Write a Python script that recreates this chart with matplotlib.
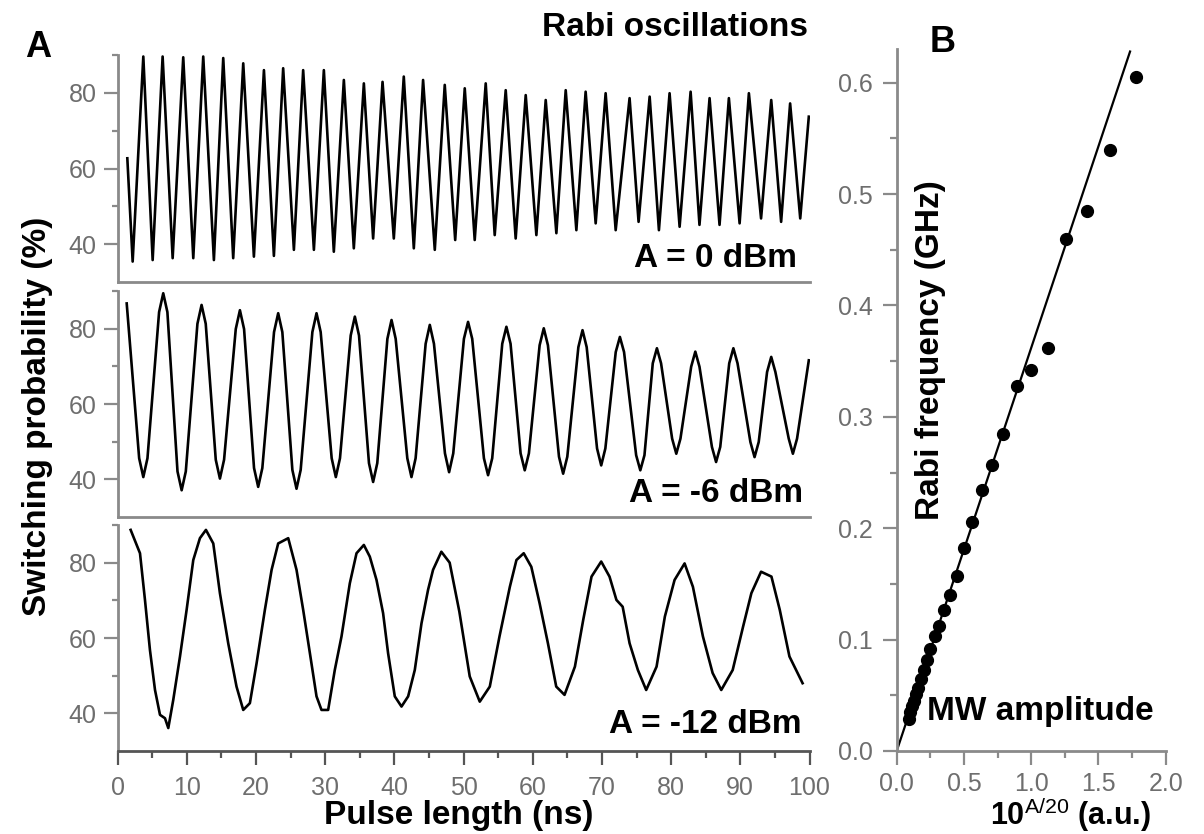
import matplotlib
matplotlib.use("Agg")
import matplotlib.pyplot as plt
from matplotlib.ticker import FixedLocator, MultipleLocator, FormatStrFormatter

plt.rcParams['font.family'] = ['Liberation Sans', 'DejaVu Sans']
plt.rcParams['mathtext.fontset'] = 'custom'
plt.rcParams['mathtext.rm'] = 'Liberation Sans'
plt.rcParams['mathtext.bf'] = 'Liberation Sans:bold'

# ---------------- data ----------------
# A = 0 dBm trace: turning points (ns, %)
t_0dbm = [1.42, 2.19, 3.73, 5.08, 6.52, 7.97, 9.5, 10.95, 12.39, 13.93, 15.28, 16.72,
          18.17, 19.71, 21.16, 22.6, 23.94, 25.49, 26.83, 28.38, 29.82, 31.26, 32.71,
          34.15, 35.6, 36.94, 38.3, 39.93, 41.37, 42.82, 44.16, 45.85, 47.29, 48.8,
          50.18, 51.62, 53.21, 54.51, 56.1, 57.54, 58.99, 60.53, 61.88, 63.42, 64.77,
          66.31, 67.65, 69.1, 70.54, 71.99, 74.0, 75.3, 76.9, 78.24, 79.78, 81.23,
          82.82, 84.1, 85.56, 87.0, 88.35, 89.9, 91.24, 93.0, 94.47, 95.9, 97.2,
          98.66, 99.9]
p_0dbm = [62.7, 35.4, 89.6, 35.8, 89.6, 36.3, 89.4, 36.3, 89.6, 35.8, 89.2, 36.3,
          87.8, 36.7, 86.0, 36.9, 86.5, 38.5, 86.0, 38.5, 86.0, 38.0, 83.4,
          38.9, 82.5, 41.5, 82.9, 41.5, 84.3, 38.9, 83.4, 38.5, 82.1, 41.1,
          81.2, 41.1, 82.5, 42.4, 80.7, 41.5, 79.4, 42.4, 78.1, 42.9, 80.7,
          43.7, 80.3, 45.5, 79.9, 43.7, 78.6, 45.9, 79.0, 43.7, 79.9, 44.6,
          80.3, 45.1, 78.6, 45.1, 78.6, 45.5, 79.9, 46.8, 78.1, 45.9, 77.2,
          46.8, 73.7]

# A = -6 dBm trace (ns, %)
t_6dbm = [1.33,
          3.13, 3.73, 4.33,   6.01, 6.61, 7.21,   8.67, 9.27, 9.87,
          11.55, 12.15, 12.75, 14.2, 14.8, 15.4,  17.09, 17.69, 18.29,
          19.73, 20.33, 20.93, 22.62, 23.22, 23.82, 25.27, 25.87, 26.47,
          28.16, 28.76, 29.36, 30.95, 31.55, 32.15, 33.7, 34.3, 34.9,
          36.34, 36.94, 37.54, 39.0, 39.6, 40.2,  41.88, 42.48, 43.08,
          44.53, 45.13, 45.73, 47.32, 47.92, 48.52, 50.06, 50.66, 51.26,
          52.95, 53.55, 54.15, 55.6, 56.2, 56.8,  58.25, 58.85, 59.45,
          61.0, 61.6, 62.2,   63.8, 64.4, 65.0,   66.6, 67.2, 67.8,
          69.3, 69.9, 70.5,   72.0, 72.6, 73.2,   74.95, 75.55, 76.15,
          77.35, 77.95, 78.55, 80.15, 80.75, 81.35, 82.9, 83.5, 84.1,
          85.9, 86.5, 87.1,   88.4, 89.0, 89.6,   91.46, 92.06, 92.66,
          93.87, 94.47, 95.07, 97.0, 97.6, 98.2,
          99.9]
p_6dbm = [86.7,
          45.6, 40.6, 45.6,   84.4, 89.4, 84.4,   42.1, 37.1, 42.1,
          81.3, 86.3, 81.3,   45.2, 40.2, 45.2,   79.9, 84.9, 79.9,
          43.0, 38.0, 43.0,   79.1, 84.1, 79.1,   42.5, 37.5, 42.5,
          79.1, 84.1, 79.1,   45.6, 40.6, 45.6,   78.2, 83.2, 78.2,
          44.3, 39.3, 44.3,   77.3, 82.3, 77.3,   45.6, 40.6, 45.6,
          76.0, 81.0, 76.0,   46.9, 41.9, 46.9,   77.3, 81.8, 77.3,
          45.6, 41.1, 45.6,   76.0, 80.5, 76.0,   46.9, 42.4, 46.9,
          75.6, 80.1, 75.6,   46.0, 41.5, 46.0,   75.1, 79.6, 75.1,
          48.2, 43.7, 48.2,   73.8, 77.8, 73.8,   46.4, 42.4, 46.4,
          70.8, 74.8, 70.8,   50.8, 46.8, 50.8,   69.9, 73.9, 69.9,
          48.6, 44.6, 48.6,   70.8, 74.8, 70.8,   49.9, 45.9, 49.9,
          68.5, 72.5, 68.5,   50.8, 46.8, 50.8,
          71.6]

# A = -12 dBm trace (ns, %)
t_12dbm = [1.9, 3.25, 3.97, 4.69, 5.42, 6.14, 6.86, 7.34, 8.06, 9.03, 9.99, 10.95,
           11.91, 12.78, 13.84, 14.8, 16.0, 17.2, 18.17, 19.13, 20.1, 21.3, 22.27,
           23.22, 24.67, 25.87, 26.83, 27.8, 28.76, 29.48, 30.44, 31.4, 32.37, 33.57,
           34.54, 35.6, 36.46, 37.43, 38.38, 39.1, 40.07, 41.04, 42.0, 42.96, 43.93,
           44.88, 45.6, 46.8, 48.0, 49.4, 50.9, 52.35, 53.8, 55.2, 56.7, 57.65,
           58.7, 59.8, 61.0, 62.2, 63.4, 64.6, 66.1, 67.3, 68.5, 69.9, 71.1, 72.1,
           73.0, 74.0, 75.2, 76.4, 77.9, 79.1, 80.5, 81.95, 83.15, 84.6, 86.0,
           87.25, 88.9, 90.4, 91.6, 93.0, 94.5, 95.7, 97.1, 99.0]
p_12dbm = [88.7, 82.5, 70.1, 56.8, 46.2, 39.6, 38.7, 36.1, 43.6, 55.1, 67.5, 80.7,
           86.5, 88.7, 85.1, 71.9, 58.6, 47.1, 40.9, 42.7, 53.3, 67.5, 78.1,
           85.1, 86.5, 78.1, 67.5, 56.0, 44.5, 40.9, 40.9, 51.5, 60.4, 74.5,
           82.5, 84.7, 81.6, 75.4, 66.6, 56.0, 44.5, 41.8, 44.5, 51.5, 63.9,
           72.8, 78.1, 82.9, 80.0, 67.0, 49.8, 43.1, 47.1, 60.4, 73.6, 80.7,
           82.5, 78.9, 69.2, 58.6, 47.1, 44.9, 52.4, 64.8, 76.3, 80.3, 76.3, 70.1,
           68.3, 58.6, 51.5, 46.2, 52.4, 65.7, 75.4, 79.8, 73.6, 60.4, 50.7,
           46.2, 51.5, 63.0, 71.9, 77.6, 76.3, 67.5, 55.1, 48.0]

trace_labels = ["A = 0 dBm", "A = -6 dBm", "A = -12 dBm"]

# Panel B: Rabi frequency vs MW amplitude 10^(A/20)
amp = [1.778, 1.585, 1.413, 1.259, 1.122, 1.0, 0.891, 0.794, 0.708, 0.631, 0.562,
       0.501, 0.447, 0.398, 0.355, 0.316, 0.282, 0.251, 0.224, 0.200, 0.178, 0.158,
       0.141, 0.126, 0.112, 0.100, 0.089]
rabi = [0.605, 0.540, 0.485, 0.460, 0.362, 0.342, 0.328, 0.285, 0.257, 0.234, 0.206,
        0.182, 0.157, 0.140, 0.127, 0.112, 0.103, 0.092, 0.082, 0.073, 0.065, 0.057,
        0.051, 0.045, 0.040, 0.035, 0.029]
fit_amp = [0.0, 1.735]
fit_rabi = [0.0, 0.628]

# ---------------- layout ----------------
W, H = 1204, 834
fig = plt.figure(figsize=(W / 100, H / 100), dpi=100)


def rect(x0, y0, x1, y1):
    return [x0 / W, 1 - y1 / H, (x1 - x0) / W, (y1 - y0) / H]


SPINE = '#8a8a8a'
TICKLAB = '#6e6e6e'
LABFS = 24
TICKFS = 18
LW = 1.9

left_rects = [rect(117.5, 55, 809.5, 282), rect(117.5, 291, 809.5, 517),
              rect(117.5, 525, 809.5, 751)]
traces = [(t_0dbm, p_0dbm), (t_6dbm, p_6dbm), (t_12dbm, p_12dbm)]
label_pos = [(0.982, 0.067), (0.991, 0.068), (0.989, 0.080)]

axes = []
for i, (r, (tt, pp)) in enumerate(zip(left_rects, traces)):
    ax = fig.add_axes(r)
    ax.plot(tt, pp, color='black', lw=LW, solid_joinstyle='round')
    ax.set_xlim(0, 100)
    ax.set_ylim(30, 90)
    for s in ('top', 'right'):
        ax.spines[s].set_visible(False)
    ax.spines['left'].set_color(SPINE)
    ax.spines['left'].set_linewidth(2)
    ax.spines['bottom'].set_color(SPINE if i < 2 else '#555555')
    ax.spines['bottom'].set_linewidth(2)
    ax.yaxis.set_major_locator(FixedLocator([40, 60, 80]))
    ax.yaxis.set_minor_locator(FixedLocator([50, 70, 90]))
    ax.tick_params(axis='y', which='major', direction='out', length=10, width=1.6,
                   color=SPINE, labelsize=TICKFS, labelcolor=TICKLAB, pad=5)
    ax.tick_params(axis='y', which='minor', direction='out', length=4, width=1.6,
                   color=SPINE)
    if i < 2:
        ax.tick_params(axis='x', which='both', bottom=False, labelbottom=False)
    else:
        ax.xaxis.set_major_locator(MultipleLocator(10))
        ax.xaxis.set_minor_locator(MultipleLocator(5))
        ax.tick_params(axis='x', which='major', direction='out', length=10, width=1.6,
                       color='#555555', labelsize=TICKFS, labelcolor=TICKLAB, pad=8)
        ax.tick_params(axis='x', which='minor', direction='out', length=5, width=1.6,
                       color='#555555')
    ax.text(label_pos[i][0], label_pos[i][1], trace_labels[i], transform=ax.transAxes,
            ha='right', va='baseline', fontsize=LABFS, fontweight='bold')
    axes.append(ax)

axes[1].set_ylabel('Switching probability (%)', fontsize=LABFS, fontweight='bold')
axes[1].yaxis.label.set_va('center')
axes[1].yaxis.set_label_coords(-0.1163, 0.447)
axes[2].set_xlabel('Pulse length (ns)', fontsize=LABFS, fontweight='bold')
axes[2].xaxis.label.set_va('center')
axes[2].xaxis.set_label_coords(0.4935, -0.2876)

# ---------------- panel B ----------------
axB = fig.add_axes(rect(896.7, 49.3, 1165.7, 751))
axB.plot(fit_amp, fit_rabi, color='black', lw=1.6)
axB.plot(amp, rabi, 'o', color='black', ms=8.5, mec='black')
axB.set_xlim(0, 2.0)
axB.set_ylim(0, 0.63)
for s in ('top', 'right'):
    axB.spines[s].set_visible(False)
for s in ('left', 'bottom'):
    axB.spines[s].set_color(SPINE)
    axB.spines[s].set_linewidth(2)
axB.xaxis.set_major_locator(MultipleLocator(0.5))
axB.xaxis.set_minor_locator(MultipleLocator(0.25))
axB.yaxis.set_major_locator(MultipleLocator(0.1))
axB.yaxis.set_minor_locator(MultipleLocator(0.05))
axB.xaxis.set_major_formatter(FormatStrFormatter('%.1f'))
axB.yaxis.set_major_formatter(FormatStrFormatter('%.1f'))
axB.tick_params(axis='both', which='major', direction='out', length=10, width=1.6,
                color=SPINE, labelsize=TICKFS, labelcolor=TICKLAB)
axB.tick_params(axis='x', which='major', pad=5)
axB.tick_params(axis='y', which='major', pad=7)
axB.tick_params(axis='both', which='minor', direction='out', length=5, width=1.6,
                color=SPINE)
axB.set_ylabel('Rabi frequency (GHz)', fontsize=LABFS, fontweight='bold')
axB.yaxis.label.set_va('center')
axB.yaxis.set_label_coords(0.124, 0.571)
axB.set_xlabel(r'10$^{\mathrm{A/20}}$ (a.u.)', fontsize=22, fontweight='bold')
axB.xaxis.label.set_va('baseline')
axB.xaxis.set_label_coords(0.644, -0.1055)
axB.text(0.1115, 0.044, 'MW amplitude', transform=axB.transAxes, ha='left',
         va='baseline', fontsize=LABFS, fontweight='bold')

# ---------------- titles / panel letters ----------------
fig.text(808 / W, 1 - 36 / H, 'Rabi oscillations', ha='right', va='baseline',
         fontsize=LABFS, fontweight='bold')
fig.text(25 / W, 1 - 57 / H, 'A', ha='left', va='baseline', fontsize=26,
         fontweight='bold')
fig.text(930 / W, 1 - 52 / H, 'B', ha='left', va='baseline', fontsize=26,
         fontweight='bold')

fig.savefig('out.png', dpi=100)
